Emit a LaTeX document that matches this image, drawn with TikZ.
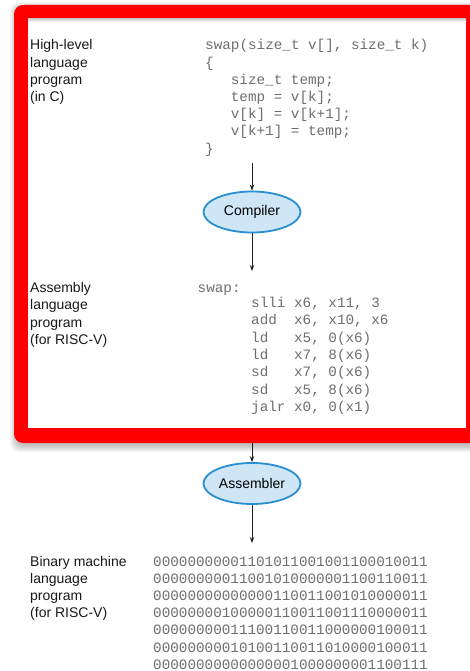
\documentclass[tikz,border=0pt]{standalone}
\usepackage{fontspec}
\setmainfont{Liberation Sans}
\newfontfamily\codefont{Liberation Mono}
\usetikzlibrary{arrows.meta,shapes.geometric}

\definecolor{framered}{HTML}{FF0000}
\definecolor{codegray}{HTML}{6E6E6E}
\definecolor{bubblefill}{HTML}{CFE6F7}
\definecolor{bubbleedge}{HTML}{2A8FD0}
\definecolor{arrowcol}{HTML}{222222}

\tikzset{
  label/.style={anchor=base west, inner sep=0pt, font=\fontsize{14}{17}\selectfont, text=black!90},
  code/.style={anchor=base west, inner sep=0pt, font=\codefont\fontsize{14.3}{17}\selectfont, text=codegray},
  tool/.style={ellipse, draw=bubbleedge, line width=1.8pt, fill=bubblefill,
    minimum width=97pt, minimum height=41pt, inner sep=0pt,
    font=\fontsize{14}{17}\selectfont},
  flow/.style={draw=arrowcol, line width=0.9pt, -{Stealth[length=6pt,width=4.5pt]}}
}

\begin{document}
\begin{tikzpicture}[x=1pt,y=-1pt]
\useasboundingbox (0,0) rectangle (469,671);
\fill[white] (0,0) rectangle (469,671);

% arrow from the assembly code down to the assembler (partly under the frame)
\coordinate (asmout) at (252,425);
\node[tool] (assembler) at (252,483.5) {Assembler};
\draw[flow] (asmout) -- (assembler.north);

% soft shadow under the red frame
\foreach \s in {0,1,...,6}
  \fill[black, opacity=0.035, rounded corners=9pt]
    (16-\s,8-\s) rectangle (485+\s,446+\s);

% red frame around the first two stages
\fill[framered, rounded corners=9pt] (14,5) rectangle (485,443);
\fill[white] (28,19) rectangle (466,428);
\shade[top color=black!18, bottom color=white] (28,19) rectangle (466,22);

% ---------------- high-level program ----------------
\node[label] (hl1) at (30,50) {High-level};
\node[label] (hl2) at (30,67.2) {language};
\node[label] (hl3) at (30,84.4) {program};
\node[label] (hl4) at (30,101.6) {(in C)};

\node[code] (c1) at (205,50) {swap(size\_t v[], size\_t k)};
\node[code] (c2) at (205,67.2) {\{};
\node[code] (c3) at (230.7,84.4) {size\_t temp;};
\node[code] (c4) at (230.7,101.6) {temp = v[k];};
\node[code] (c5) at (230.7,118.8) {v[k] = v[k+1];};
\node[code] (c6) at (230.7,136) {v[k+1] = temp;};
\node[code] (c7) at (205,153.2) {\}};

\coordinate (cout) at (252,163);
\node[tool] (compiler) at (252,212) {Compiler};
\draw[flow] (cout) -- (compiler.north);
\coordinate (asmin) at (252,271);
\draw[flow] (compiler.south) -- (asmin);

% ---------------- assembly program ----------------
\node[label] (as1) at (30,292.7) {Assembly};
\node[label] (as2) at (30,309.9) {language};
\node[label] (as3) at (30,327.1) {program};
\node[label] (as4) at (30,344.3) {(for RISC-V)};

\node[code] (swp) at (197.5,292.7) {swap:};
\foreach \op/\arg [count=\i from 0] in
  {slli/{x6, x11, 3}, add/{x6, x10, x6}, ld/{x5, 0(x6)}, ld/{x7, 8(x6)},
   sd/{x7, 0(x6)}, sd/{x5, 8(x6)}, jalr/{x0, 0(x1)}} {
  \node[code] (op\i) at (251,307.6+17.3*\i) {\op};
  \node[code] (arg\i) at (293.9,307.6+17.3*\i) {\arg};
}

% ---------------- machine code ----------------
\coordinate (binin) at (252,543);
\draw[flow] (assembler.south) -- (binin);

\node[label] (bn1) at (30,566) {Binary machine};
\node[label] (bn2) at (30,583.2) {language};
\node[label] (bn3) at (30,600.4) {program};
\node[label] (bn4) at (30,617.6) {(for RISC-V)};

\foreach \w [count=\i from 0] in
  {00000000001101011001001100010011,
   00000000011001010000001100110011,
   00000000000000110011001010000011,
   00000000100000110011001110000011,
   00000000011100110011000000100011,
   00000000010100110011010000100011,
   00000000000000001000000001100111} {
  \node[code] (bin\i) at (153,566+17.2*\i) {\w};
}
\end{tikzpicture}
\end{document}
